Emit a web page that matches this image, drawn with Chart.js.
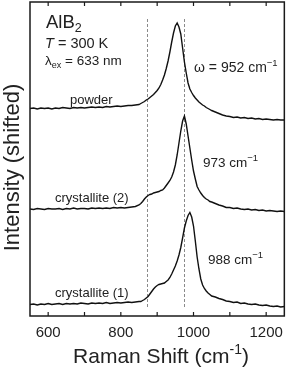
<!DOCTYPE html>
<html>
<head>
<meta charset="utf-8">
<script src="https://cdn.jsdelivr.net/npm/chart.js@4.4.1/dist/chart.umd.min.js"></script>
<style>
    html, body { margin: 0; padding: 0; background: #fff; }
    #wrap { width: 291px; height: 371px; }
</style>
</head>
<body>
<div id="wrap"><canvas id="chart-raman" width="291" height="371"></canvas></div>
<script>
// Raman shift grid (cm-1), finer around the peaks
const ramanShift = [
    550, 560, 570, 580, 590, 600, 610, 620, 630, 640, 650, 660, 670, 680, 690,
    700, 710, 720, 730, 740, 750, 760, 770, 780, 790, 800, 810, 820, 830, 840,
    850, 855, 860, 865, 870, 875, 880, 885, 890, 895, 900, 905, 910, 915, 920,
    925, 930, 935, 940, 945, 950, 955, 960, 965, 970, 975, 980, 985, 990, 995,
    1000, 1005, 1010, 1015, 1020, 1025, 1030, 1035, 1040, 1045, 1050,
    1060, 1070, 1080, 1090, 1100, 1110, 1120, 1130, 1140, 1150, 1160, 1170, 1180,
    1190, 1200, 1210, 1220, 1230, 1240, 1250
];

// intensities (arb. units, already shifted)
const powderIntensity = [
    207.5, 208, 207, 208, 207.5, 208, 207, 208, 207.5, 208.5, 208, 207.5, 208.5, 208, 208.5,
    208, 208.5, 209, 208.5, 209, 208.5, 209.5, 209, 209.5, 210, 209.5, 210, 210.5, 210.5, 211,
    211.5, 212.5, 213.5, 214.5, 216, 217, 218.5, 220, 221.5, 223.5, 225.5, 228, 231.5, 236, 241,
    247.5, 255, 264, 274, 283, 290, 293, 289, 282, 268, 254, 243, 233, 227, 223.5,
    220.5, 218, 216, 214, 212.5, 211, 210, 208.5, 207.5, 206.5, 205.5,
    204, 202.5, 201, 200, 199.5, 198.5, 199, 198, 198.5, 197.5, 198, 197, 197.5,
    196.5, 197, 196.5, 196, 196.5, 196, 196
];

const crystallite2Intensity = [
    107, 106.5, 107.5, 107, 106.5, 107.5, 107, 107, 107.5, 106.5, 107.5, 107, 108, 107, 107.5,
    107.5, 107, 108, 107.5, 108, 107.5, 108, 107.5, 108.5, 108, 108.5, 108, 108.5, 109, 109.5,
    111, 112.5, 114.5, 117, 119, 120.5, 121.5, 122, 123, 123.5, 124, 124.5, 125.5, 126, 128,
    130.5, 133, 135.5, 139, 144, 151, 161, 173, 185, 195, 200, 192, 180, 168, 156,
    145, 137, 129.5, 126, 123, 120.5, 118.5, 117, 116, 114.5, 114,
    112.5, 111, 110, 108.5, 108.5, 107.5, 108, 107, 106.5, 107, 106, 106.5, 105.5,
    106, 105, 105.5, 105, 104.5, 105, 104.5
];

const crystallite1Intensity = [
    11.5, 12, 11, 12, 11.5, 12.5, 11.5, 12, 12.5, 11.5, 12.5, 12, 12.5, 12, 13,
    12.5, 12, 13, 12.5, 13, 12.5, 13.5, 12.5, 13, 13.5, 13, 13.5, 14, 13.5, 14,
    14.5, 14.5, 15.5, 16.5, 18, 19.5, 22, 24.5, 27, 29, 30.5, 31.5, 32, 32.5, 33,
    34.5, 36, 38.5, 42, 46, 50, 55, 61, 68.5, 78, 88, 95, 100.5, 103.5, 99,
    90, 75, 59, 47, 37, 31, 27.5, 25, 23, 21.5, 20,
    19, 17.5, 16.5, 15, 14.5, 13.5, 14, 12.5, 13, 12, 11.5, 12, 11,
    10.5, 11, 10, 9.5, 10, 9, 9.5
];

const shiftTicks = [600, 700, 800, 900, 1000, 1100, 1200];
const labelledTicks = [600, 800, 1000, 1200];
const markerShifts = [871, 973];

const FONT = '"Liberation Sans", Arial, Helvetica, sans-serif';
const INK = '#222';

function toPoints(values) {
    return values.map((v, i) => ({ x: ramanShift[i], y: v }));
}

function drawRich(ctx, x, y, parts) {
    let cx = x;
    parts.forEach(p => {
        ctx.font = `${p.italic ? 'italic ' : ''}${p.size}px ${FONT}`;
        ctx.fillText(p.text, cx, y + (p.dy || 0));
        cx += ctx.measureText(p.text).width;
    });
    return cx - x;
}

function richWidth(ctx, parts) {
    let w = 0;
    parts.forEach(p => {
        ctx.font = `${p.italic ? 'italic ' : ''}${p.size}px ${FONT}`;
        w += ctx.measureText(p.text).width;
    });
    return w;
}

const decor = {
    id: 'decor',
    beforeDatasetsDraw(chart) {
        const { ctx, scales: { x, y } } = chart;
        ctx.save();
        ctx.strokeStyle = '#8a8a8a';
        ctx.lineWidth = 1;
        ctx.setLineDash([3, 2]);
        markerShifts.forEach(w => {
            const px = Math.round(x.getPixelForValue(w)) + 0.5;
            ctx.beginPath();
            ctx.moveTo(px, y.getPixelForValue(297));
            ctx.lineTo(px, y.getPixelForValue(8));
            ctx.stroke();
        });
        ctx.restore();
    },
    afterDraw(chart) {
        const { ctx, chartArea: a, scales: { x } } = chart;
        ctx.save();

        // frame + inward ticks
        ctx.strokeStyle = '#1a1a1a';
        ctx.lineWidth = 1.5;
        ctx.strokeRect(a.left, a.top, a.right - a.left, a.bottom - a.top);
        ctx.lineWidth = 1.2;
        shiftTicks.forEach(w => {
            const px = x.getPixelForValue(w);
            ctx.beginPath();
            ctx.moveTo(px, a.bottom);
            ctx.lineTo(px, a.bottom - 4);
            ctx.moveTo(px, a.top);
            ctx.lineTo(px, a.top + 4);
            ctx.stroke();
        });

        // annotations
        ctx.fillStyle = INK;
        ctx.textAlign = 'left';
        ctx.textBaseline = 'alphabetic';
        drawRich(ctx, 46, 28, [{ text: 'AlB', size: 18.5 }, { text: '2', size: 12.5, dy: 4 }]);
        drawRich(ctx, 45, 48, [{ text: 'T', size: 14.5, italic: true }, { text: ' = 300 K', size: 14.5 }]);
        drawRich(ctx, 45, 65, [{ text: 'λ', size: 13.5 }, { text: 'ex', size: 9, dy: 3 }, { text: ' = 633 nm', size: 13.5 }]);
        drawRich(ctx, 194, 72, [{ text: 'ω = 952 cm', size: 14 }, { text: '−1', size: 9.5, dy: -6 }]);
        drawRich(ctx, 203, 167, [{ text: '973 cm', size: 13.5 }, { text: '−1', size: 9.5, dy: -6 }]);
        drawRich(ctx, 208, 264, [{ text: '988 cm', size: 13.5 }, { text: '−1', size: 9.5, dy: -6 }]);
        drawRich(ctx, 70, 104, [{ text: 'powder', size: 13 }]);
        drawRich(ctx, 55, 202, [{ text: 'crystallite (2)', size: 13 }]);
        drawRich(ctx, 55, 297, [{ text: 'crystallite (1)', size: 13 }]);

        // x axis title
        const xTitle = [{ text: 'Raman Shift (cm', size: 21 }, { text: '-1', size: 14, dy: -9 }, { text: ')', size: 21 }];
        const tw = richWidth(ctx, xTitle);
        drawRich(ctx, 161 - tw / 2, 363, xTitle);

        // y axis title
        ctx.translate(19, 167.5);
        ctx.rotate(-Math.PI / 2);
        ctx.textAlign = 'center';
        ctx.font = `22px ${FONT}`;
        ctx.fillText('Intensity (shifted)', 0, 0);

        ctx.restore();
    }
};

const lineStyle = {
    borderColor: '#111',
    borderWidth: 1.4,
    pointRadius: 0,
    tension: 0,
    fill: false
};

const ctxRaman = document.getElementById('chart-raman').getContext('2d');
const chartRaman = new Chart(ctxRaman, {
    type: 'line',
    data: {
        datasets: [
            { label: 'powder', data: toPoints(powderIntensity), ...lineStyle },
            { label: 'crystallite (2)', data: toPoints(crystallite2Intensity), ...lineStyle },
            { label: 'crystallite (1)', data: toPoints(crystallite1Intensity), ...lineStyle }
        ]
    },
    options: {
        responsive: false,
        animation: false,
        layout: { padding: { left: 30, right: 2, top: 2, bottom: 0 } },
        plugins: {
            legend: { display: false },
            tooltip: { enabled: false }
        },
        scales: {
            x: {
                type: 'linear',
                min: 550,
                max: 1250,
                grid: { display: false, drawTicks: false },
                border: { display: false },
                afterBuildTicks: s => { s.ticks = labelledTicks.map(v => ({ value: v })); },
                ticks: {
                    autoSkip: false,
                    maxRotation: 0,
                    padding: 8,
                    color: INK,
                    font: { family: FONT, size: 15 },
                    callback: v => String(v)
                },
                afterFit: s => { s.height = 55; }
            },
            y: { display: false, min: 0, max: 314 }
        }
    },
    plugins: [decor]
});
</script>
</body>
</html>
